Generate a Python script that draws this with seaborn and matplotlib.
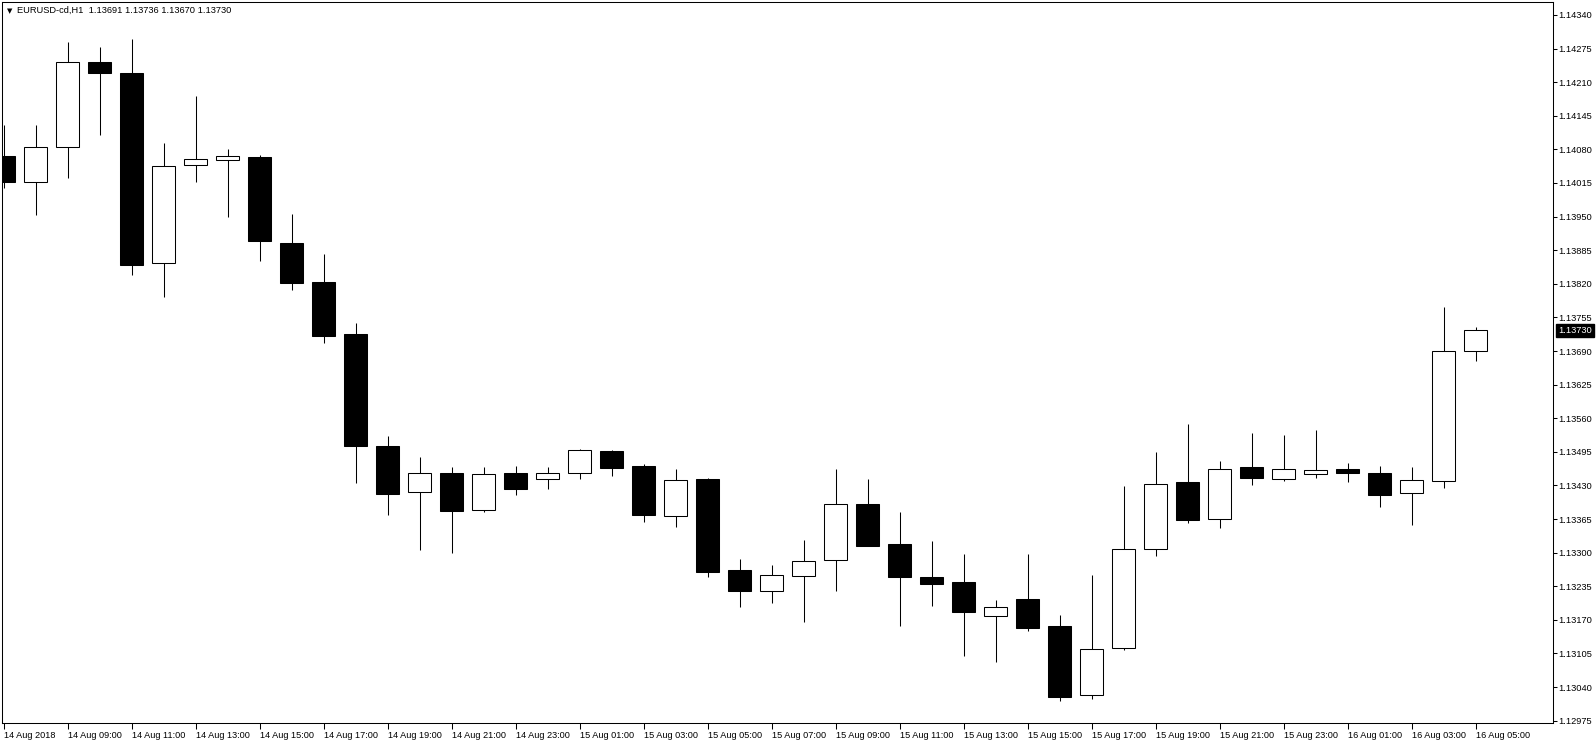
import numpy as np
import pandas as pd
import matplotlib
matplotlib.use("Agg")
import matplotlib.pyplot as plt
import seaborn as sns
from matplotlib.transforms import blended_transform_factory

# EURUSD H1 candles, 14 Aug 07:00 -> 16 Aug 05:00
opens = [1.14067, 1.14016, 1.14085, 1.14249, 1.14228, 1.13860, 1.14049, 1.14059,
         1.14065, 1.13899, 1.13824, 1.13723, 1.13506, 1.13417, 1.13454, 1.13382,
         1.13454, 1.13442, 1.13454, 1.13497, 1.13468, 1.13370, 1.13443, 1.13267,
         1.13225, 1.13254, 1.13285, 1.13394, 1.13317, 1.13253, 1.13243, 1.13177,
         1.13210, 1.13158, 1.13024, 1.13115, 1.13307, 1.13437, 1.13365, 1.13465,
         1.13442, 1.13452, 1.13461, 1.13455, 1.13415, 1.13438, 1.13691]
highs = [1.14127, 1.14127, 1.14288, 1.14278, 1.14294, 1.14092, 1.14183, 1.14081,
         1.14069, 1.13955, 1.13878, 1.13744, 1.13526, 1.13485, 1.13466, 1.13466,
         1.13468, 1.13466, 1.13501, 1.13499, 1.13472, 1.13462, 1.13444, 1.13288,
         1.13276, 1.13325, 1.13462, 1.13443, 1.13379, 1.13323, 1.13297, 1.13208,
         1.13297, 1.13179, 1.13257, 1.13429, 1.13495, 1.13549, 1.13477, 1.13531,
         1.13528, 1.13537, 1.13473, 1.13468, 1.13466, 1.13775, 1.13736]
lows = [1.14005, 1.13953, 1.14025, 1.14107, 1.13838, 1.13795, 1.14016, 1.13950,
        1.13865, 1.13809, 1.13706, 1.13435, 1.13373, 1.13306, 1.13300, 1.13379,
        1.13412, 1.13424, 1.13443, 1.13449, 1.13360, 1.13350, 1.13252, 1.13194,
        1.13203, 1.13166, 1.13226, 1.13313, 1.13159, 1.13197, 1.13101, 1.13089,
        1.13149, 1.13013, 1.13017, 1.13112, 1.13294, 1.13358, 1.13348, 1.13431,
        1.13439, 1.13445, 1.13437, 1.13389, 1.13354, 1.13426, 1.13670]
closes = [1.14016, 1.14085, 1.14250, 1.14228, 1.13857, 1.14047, 1.14061, 1.14067,
          1.13902, 1.13822, 1.13720, 1.13507, 1.13414, 1.13455, 1.13381, 1.13452,
          1.13424, 1.13455, 1.13498, 1.13464, 1.13372, 1.13440, 1.13263, 1.13225,
          1.13256, 1.13283, 1.13394, 1.13313, 1.13252, 1.13240, 1.13186, 1.13194,
          1.13155, 1.13020, 1.13113, 1.13308, 1.13432, 1.13364, 1.13461, 1.13445,
          1.13461, 1.13459, 1.13454, 1.13412, 1.13440, 1.13690, 1.13730]

time_labels = ["14 Aug 2018", "14 Aug 09:00", "14 Aug 11:00", "14 Aug 13:00",
               "14 Aug 15:00", "14 Aug 17:00", "14 Aug 19:00", "14 Aug 21:00",
               "14 Aug 23:00", "15 Aug 01:00", "15 Aug 03:00", "15 Aug 05:00",
               "15 Aug 07:00", "15 Aug 09:00", "15 Aug 11:00", "15 Aug 13:00",
               "15 Aug 15:00", "15 Aug 17:00", "15 Aug 19:00", "15 Aug 21:00",
               "15 Aug 23:00", "16 Aug 01:00", "16 Aug 03:00", "16 Aug 05:00"]
price_ticks = [1.12975, 1.13040, 1.13105, 1.13170, 1.13235, 1.13300, 1.13365,
               1.13430, 1.13495, 1.13560, 1.13625, 1.13690, 1.13755, 1.13820,
               1.13885, 1.13950, 1.14015, 1.14080, 1.14145, 1.14210, 1.14275,
               1.14340]
last_price = 1.13730

df = pd.DataFrame({"open": opens, "high": highs, "low": lows, "close": closes})
df["x"] = np.arange(len(df))
up = df["close"] >= df["open"]

sns.set_theme(style="white")
plt.rcParams['font.family'] = ['Liberation Sans', 'DejaVu Sans']

W, H = 1596, 744
fig = plt.figure(figsize=(W / 100, H / 100), dpi=100)
ax = fig.add_axes([2 / W, 21 / H, 1551 / W, 721 / H])

# wicks then bodies
ax.vlines(df["x"], df["low"], df["high"], color="black", lw=0.75, zorder=1)
ax.bar(df["x"], (df["close"] - df["open"]).abs(),
       bottom=df[["open", "close"]].min(axis=1), width=0.74,
       color=np.where(up, "white", "black"), edgecolor="black",
       linewidth=0.75, zorder=2)

ax.set_xlim(-0.047, 48.42)
ax.set_ylim(1.129705, 1.143651)

for s in ax.spines.values():
    s.set_color("black")
    s.set_linewidth(0.75)
    s.set_visible(True)

ax.yaxis.tick_right()
ax.set_yticks(price_ticks)
ax.set_yticklabels([f"{v:.5f}" for v in price_ticks], fontsize=6.7)
ax.set_xticks(df["x"][::2], time_labels, fontsize=6.6, ha="left")
ax.tick_params(axis="y", right=True, left=False, direction="out", length=3,
               width=0.75, pad=1, colors="black")
ax.tick_params(axis="x", bottom=True, direction="out", length=4,
               width=0.75, pad=1.5, colors="black")
ax.grid(False)

trans = blended_transform_factory(ax.transAxes, ax.transData)
ax.annotate(f"{last_price:.5f}", xy=(1, last_price), xycoords=trans,
            xytext=(5, 0), textcoords="offset pixels", va="center", ha="left",
            fontsize=6.7, color="white",
            bbox=dict(boxstyle="square,pad=0.2", fc="black", ec="black"))

fig.text(7 / W, 1 - 11 / H, "▼", fontsize=5, va="center", ha="left",
         family="DejaVu Sans", color="black")
fig.text(17 / W, 1 - 10.5 / H, "EURUSD-cd,H1  1.13691 1.13736 1.13670 1.13730",
         fontsize=6.7, va="center", ha="left", color="black")

fig.savefig("out.png", dpi=100, facecolor="white")
